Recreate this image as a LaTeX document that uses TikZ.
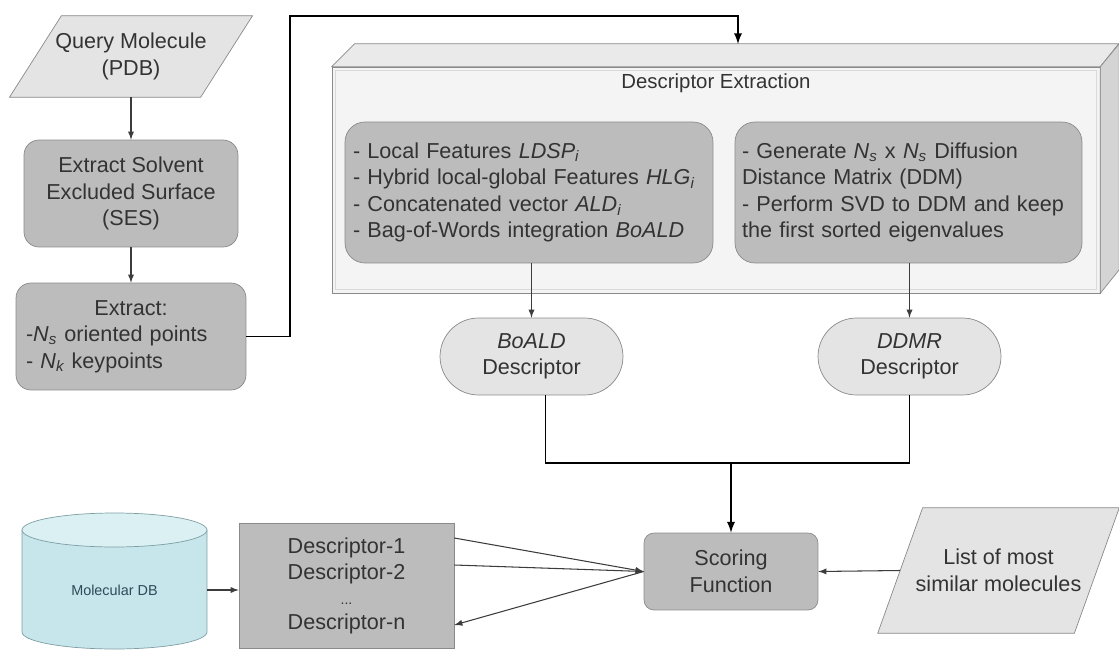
\documentclass[tikz,border=0pt]{standalone}
\usepackage{fontspec}
\setmainfont{Liberation Sans}
\usetikzlibrary{shapes.misc,backgrounds}
\definecolor{ink}{HTML}{333333}
\definecolor{wire}{HTML}{3C3C3C}
\definecolor{edge}{HTML}{8A8A8A}
\definecolor{boxgray}{HTML}{BCBCBC}
\definecolor{iofill}{HTML}{E4E4E4}
\definecolor{frontface}{HTML}{F4F4F4}
\definecolor{topface}{HTML}{EAEAEA}
\definecolor{sideface}{HTML}{D4D4D4}
\definecolor{dbbody}{HTML}{C6E6EB}
\definecolor{dbtop}{HTML}{DAF0F3}
\definecolor{dbedge}{HTML}{7E9EA4}
\definecolor{dbtext}{HTML}{2E4A58}

\begin{document}
\begin{tikzpicture}[x=0.02cm,y=-0.02cm,>=latex,
	font=\fontsize{12.3}{15.1}\selectfont,
	every node/.style={text=ink},
	iobox/.style={rectangle,inner sep=0pt,align=center},
	io/.style={draw=edge,fill=iofill},
	proc/.style={rectangle,rounded corners=0.3cm,draw=edge,fill=boxgray,inner sep=0pt,align=center},
	pill/.style={rounded rectangle,draw=edge,fill=iofill,inner sep=0pt,minimum width=3.66cm,minimum height=1.54cm,align=center},
	arr/.style={->,draw=wire,line width=0.6pt},
	bus/.style={draw=black,line width=1.1pt}]
	\useasboundingbox (0,0) rectangle (1119,652);
	
	% query side
	\node[iobox,minimum width=3.81cm,minimum height=1.62cm] (query) at (131,56.5) {Query Molecule\\(PDB)};
	\node[proc,minimum width=4.28cm,minimum height=2.14cm] (ses) at (131,193.5) {Extract Solvent\\Excluded Surface\\(SES)};
	\node[proc,minimum height=2.14cm,text width=4.2cm,inner xsep=0.2cm,align=left] (extract) at (131,336.5) {{\centering Extract:\par}-\textit{N\textsubscript{s}} oriented points\\- \textit{N\textsubscript{k}} keypoints};
	
	% descriptor extraction block
	\node[draw=edge,fill=frontface,minimum width=15.36cm,minimum height=4.52cm] (extr) at (716,180) {};
	\draw[draw=edge,fill=topface] (extr.north west) -- ++(23,-23) -- ++(764,0) -- (extr.north east) -- cycle;
	\draw[draw=edge,fill=sideface] (extr.north east) -- ++(19,-23) -- ++(0,226) -- (extr.south east) -- cycle;
	\draw[gray!30] ([shift={(4,4)}]extr.north west) rectangle ([shift={(-4,-4)}]extr.south east);
	\node[font=\fontsize{11.6}{14}\selectfont] (extrtitle) at (716,83) {Descriptor Extraction};
	\node[proc,rounded corners=0.4cm,text width=7.04cm,inner xsep=0.16cm,minimum height=2.82cm,align=left] (ldsp) at (529,192.5) {- Local Features \textit{LDSP\textsubscript{i}}\\- Hybrid local-global Features \textit{HLG\textsubscript{i}}\\- Concatenated vector \textit{ALD\textsubscript{i}}\\- Bag-of-Words integration \textit{BoALD}};
	\node[proc,rounded corners=0.4cm,text width=6.66cm,inner xsep=0.14cm,minimum height=2.82cm,align=left] (ddm) at (908.5,192.5) {- Generate \textit{N\textsubscript{s}} x \textit{N\textsubscript{s}} Diffusion\\Distance Matrix (DDM)\\- Perform SVD to DDM and keep\\the first sorted eigenvalues};
	\node[pill] (boald) at (531.5,356.5) {\textit{BoALD}\\Descriptor};
	\node[pill] (ddmr) at (909.5,356.5) {\textit{DDMR}\\Descriptor};
	
	% bottom row
	\node[proc,rounded corners=0.2cm,minimum width=3.48cm,minimum height=1.54cm] (score) at (731,571.5) {Scoring\\Function};
	\node[iobox,minimum width=3.92cm,minimum height=2.5cm] (list) at (998.5,570.5) {List of most\\similar molecules};
	\node[draw=edge,fill=boxgray,minimum width=4.3cm,minimum height=2.5cm,inner sep=0pt,align=center] (descs) at (346.5,585.5) {Descriptor-1\\Descriptor-2\\[-1pt]{\footnotesize ...}\\[-1pt]Descriptor-n};
	\fill[dbbody,draw=dbedge] (22,530) -- (22,632) arc[start angle=180,end angle=360,x radius=1.85cm,y radius=0.34cm] -- (207,530) -- cycle;
	\draw[draw=dbedge,fill=dbtop] (114.5,530) ellipse[x radius=1.85cm,y radius=0.34cm];
	\node[minimum width=3.7cm,inner sep=0pt,font=\fontsize{8.2}{10}\selectfont,text=dbtext] (moldb) at (114.5,590) {Molecular DB};
	
	% parallelograms
	\begin{scope}[on background layer]
		\draw[io] ([xshift=0.52cm]query.north west) -- ([xshift=0.52cm]query.north east) -- ([xshift=-0.52cm]query.south east) -- ([xshift=-0.52cm]query.south west) -- cycle;
		\draw[io] ([xshift=0.45cm]list.north west) -- ([xshift=0.45cm]list.north east) -- ([xshift=-0.45cm]list.south east) -- ([xshift=-0.45cm]list.south west) -- cycle;
	\end{scope}
	
	% connectors
	\coordinate (bend) at (290,16);
	\coordinate (extrtop) at (738,44);
	\coordinate (join) at (731,463);
	\draw[arr] (query.south) -- (ses.north);
	\draw[arr] (ses.south) -- (extract.north);
	\draw[bus,->] (extract.east) -| (bend) -| (extrtop);
	\draw[arr] (boald.north |- ldsp.south) -- (boald.north);
	\draw[arr] (ddmr.north |- ddm.south) -- (ddmr.north);
	\draw[bus] ([xshift=0.28cm]boald.south) |- (join) -| (ddmr.south);
	\draw[bus,->] (join) -- (score.north);
	\draw[arr] (moldb.east) -- (moldb.east -| descs.west);
	\draw[arr] ([yshift=0.95cm]descs.east) -- (score.west);
	\draw[arr] ([yshift=0.41cm]descs.east) -- (score.west);
	\draw[arr] (score.west) -- ([yshift=-0.79cm]descs.east);
	\draw[arr] (list.west) -- (score.east);
\end{tikzpicture}
\end{document}
